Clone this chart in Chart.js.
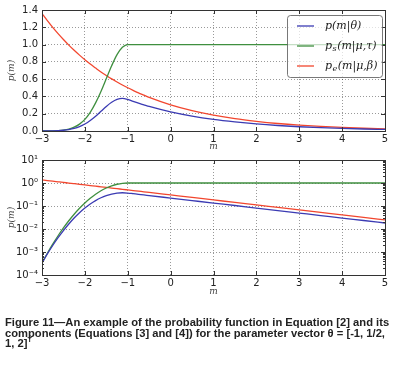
<!DOCTYPE html>
<html>
<head>
<meta charset="utf-8">
<script src="https://cdn.jsdelivr.net/npm/chart.js@4/dist/chart.umd.min.js"></script>
<style>
  body { margin: 0; background: #fff; width: 393px; height: 369px; position: relative; overflow: hidden; }
  .box { position: absolute; left: 0; width: 393px; }
  #top { top: 0; height: 152px; }
  #bottom { top: 150px; height: 147px; }
  #caption {
    position: absolute; left: 5px; top: 317px; width: 388px;
    font-family: "Liberation Sans", Arial, sans-serif; font-weight: bold;
    font-size: 11.2px; line-height: 10.5px; color: #222;
  }
</style>
</head>
<body>
<div class="box" id="top"><canvas id="linChart"></canvas></div>
<div class="box" id="bottom"><canvas id="logChart"></canvas></div>
<div id="caption">Figure 11—An example of the probability function in Equation [2] and its components (Equations [3] and [4]) for the parameter vector θ = [-1, 1/2, 1, 2]<sup style="font-size:7px; line-height:0">T</sup></div>
<script>
const mValues = [-3, -2.875, -2.75, -2.625, -2.5, -2.375, -2.25, -2.125, -2, -1.875, -1.75, -1.625,
  -1.5, -1.375, -1.25, -1.125, -1, -0.875, -0.75, -0.625, -0.5, 0, 0.5, 1, 1.5, 2, 2.5, 3, 3.5, 4, 4.5, 5];
const pTotal = [0.000332, 0.000824, 0.00192, 0.00418, 0.00858, 0.0165, 0.0300, 0.0510, 0.0814, 0.122, 0.172, 0.228,
  0.284, 0.332, 0.365, 0.377, 0.365, 0.343, 0.322, 0.303, 0.284, 0.221, 0.172, 0.134, 0.105, 0.0815, 0.0634, 0.0494, 0.0385, 0.0299, 0.0234, 0.0182];
const pS = [0.000335, 0.000884, 0.00219, 0.00508, 0.0111, 0.0228, 0.0439, 0.0796, 0.135, 0.216, 0.325, 0.458,
  0.607, 0.755, 0.883, 0.969, 1, 1, 1, 1, 1, 1, 1, 1, 1, 1, 1, 1, 1, 1, 1, 1];
const pE = [1.359, 1.277, 1.199, 1.127, 1.059, 0.994, 0.934, 0.878, 0.824, 0.774, 0.728, 0.683,
  0.642, 0.603, 0.567, 0.532, 0.5, 0.470, 0.441, 0.415, 0.389, 0.303, 0.236, 0.184, 0.143, 0.112, 0.0869, 0.0677, 0.0527, 0.0410, 0.0320, 0.0249];

const seriesLabels = ['p(m|θ)', 'p_s(m|μ,τ)', 'p_e(m|μ,β)'];
const seriesColors = ['#3b3bb3', '#3f8f3f', '#f2462e'];
const xTicks = [-3, -2, -1, 0, 1, 2, 3, 4, 5];
const linTicks = [0, 0.2, 0.4, 0.6, 0.8, 1.0, 1.2, 1.4];
const logTicks = [1e-4, 1e-3, 1e-2, 1e-1, 1, 10];
const logTickLabels = ['10⁻⁴', '10⁻³', '10⁻²', '10⁻¹', '10⁰', '10¹'];

const tickFont = { family: 'DejaVu Sans', size: 10 };
const mathFont = { family: 'DejaVu Serif', style: 'italic', size: 9 };
const gridLines = { color: 'rgba(0,0,0,0.4)', drawTicks: false };
const dotted = { display: false, dash: [1, 2] };

function makeDatasets() {
  return [pTotal, pS, pE].map((vals, i) => ({
    label: seriesLabels[i],
    data: mValues.map((m, j) => ({ x: m, y: vals[j] })),
    borderColor: seriesColors[i],
    borderWidth: 1.3,
    pointRadius: 0,
    cubicInterpolationMode: 'monotone',
    fill: false
  }));
}

// box around the plot plus inward ticks, like matplotlib
const framePlugin = {
  id: 'frame',
  afterDraw(chart) {
    const ctx = chart.ctx;
    const a = chart.chartArea;
    const ys = chart.scales.y;
    ctx.save();
    ctx.strokeStyle = '#333';
    ctx.lineWidth = 1;
    ctx.strokeRect(a.left + 0.5, a.top + 0.5, a.right - a.left, a.bottom - a.top);
    ctx.beginPath();
    chart.scales.x.ticks.forEach(t => {
      const px = Math.round(chart.scales.x.getPixelForValue(t.value)) + 0.5;
      ctx.moveTo(px, a.bottom); ctx.lineTo(px, a.bottom - 4);
      ctx.moveTo(px, a.top); ctx.lineTo(px, a.top + 4);
    });
    ys.ticks.forEach(t => {
      const py = Math.round(ys.getPixelForValue(t.value)) + 0.5;
      ctx.moveTo(a.left, py); ctx.lineTo(a.left + 4, py);
      ctx.moveTo(a.right, py); ctx.lineTo(a.right - 4, py);
    });
    if (ys.type === 'logarithmic') {
      // minor ticks between decades
      for (let d = 0; d < logTicks.length - 1; d++) {
        for (let k = 2; k <= 9; k++) {
          const py = Math.round(ys.getPixelForValue(logTicks[d] * k)) + 0.5;
          ctx.moveTo(a.left, py); ctx.lineTo(a.left + 2, py);
          ctx.moveTo(a.right, py); ctx.lineTo(a.right - 2, py);
        }
      }
    }
    ctx.stroke();
    ctx.restore();
  }
};

function drawMath(ctx, text, x, y, size) {
  // handles "p_s(...)" with a lowered subscript
  const parts = text.split('_');
  ctx.font = 'italic ' + size + 'px "DejaVu Serif"';
  ctx.textBaseline = 'middle';
  ctx.fillText(parts[0], x, y);
  let cx = x + ctx.measureText(parts[0]).width;
  if (parts.length > 1) {
    const sub = parts[1].charAt(0);
    const rest = parts[1].slice(1);
    ctx.font = 'italic ' + Math.round(size * 0.7) + 'px "DejaVu Serif"';
    ctx.fillText(sub, cx + 0.5, y + 3);
    cx += ctx.measureText(sub).width + 1;
    ctx.font = 'italic ' + size + 'px "DejaVu Serif"';
    ctx.fillText(rest, cx, y);
  }
}

const legendPlugin = {
  id: 'mathLegend',
  afterDraw(chart) {
    if (!chart.options.plugins.mathLegend.show) return;
    const ctx = chart.ctx;
    const a = chart.chartArea;
    const x0 = a.right - 98, y0 = a.top + 5, w = 95, h = 62;
    ctx.save();
    ctx.beginPath();
    ctx.roundRect(x0 + 0.5, y0 + 0.5, w, h, 3);
    ctx.fillStyle = 'rgba(255,255,255,0.7)';
    ctx.fill();
    ctx.strokeStyle = '#555';
    ctx.lineWidth = 0.8;
    ctx.stroke();
    chart.data.datasets.forEach((ds, i) => {
      const ry = y0 + 11 + i * 20;
      ctx.strokeStyle = ds.borderColor;
      ctx.lineWidth = 1.3;
      ctx.beginPath();
      ctx.moveTo(x0 + 10, ry); ctx.lineTo(x0 + 27, ry);
      ctx.stroke();
      ctx.fillStyle = '#222';
      drawMath(ctx, ds.label, x0 + 38, ry, 11);
    });
    ctx.restore();
  }
};

function baseOptions(yScale, xHeight, pad, showLegend) {
  return {
    responsive: true,
    maintainAspectRatio: false,
    animation: false,
    layout: { padding: pad },
    plugins: { legend: { display: false }, tooltip: { enabled: false }, mathLegend: { show: showLegend } },
    scales: {
      x: {
        type: 'linear', min: -3, max: 5,
        afterBuildTicks: s => { s.ticks = xTicks.map(v => ({ value: v })); },
        afterFit: s => { s.height = xHeight; },
        grid: gridLines,
        border: dotted,
        ticks: { font: tickFont, color: '#222', padding: 2, maxRotation: 0,
          callback: v => String(v).replace('-', '\u2212') },
        title: { display: true, text: 'm', font: mathFont, color: '#444', padding: 0 }
      },
      y: yScale
    }
  };
}

const linY = {
  min: 0, max: 1.4,
  afterBuildTicks: s => { s.ticks = linTicks.map(v => ({ value: v })); },
  afterFit: s => { s.width = 42; },
  grid: gridLines,
  border: dotted,
  ticks: { font: tickFont, color: '#222', padding: 4, callback: v => v.toFixed(1) },
  title: { display: true, text: 'p(m)', font: mathFont, color: '#444', padding: 6 }
};

const logY = {
  type: 'logarithmic', min: 1e-4, max: 10,
  afterBuildTicks: s => { s.ticks = logTicks.map(v => ({ value: v })); },
  afterFit: s => { s.width = 42; },
  grid: gridLines,
  border: dotted,
  ticks: { font: tickFont, color: '#222', padding: 4,
    callback: v => { const k = logTicks.indexOf(v); return k >= 0 ? logTickLabels[k] : ''; } },
  title: { display: true, text: 'p(m)', font: mathFont, color: '#444', padding: 6 }
};

new Chart(document.getElementById('linChart'), {
  type: 'line',
  data: { datasets: makeDatasets() },
  options: baseOptions(linY, 21, { top: 10, right: 8 }, true),
  plugins: [framePlugin, legendPlugin]
});

new Chart(document.getElementById('logChart'), {
  type: 'line',
  data: { datasets: makeDatasets() },
  options: baseOptions(logY, 22, { top: 5, right: 8 }, false),
  plugins: [framePlugin, legendPlugin]
});
</script>
</body>
</html>
